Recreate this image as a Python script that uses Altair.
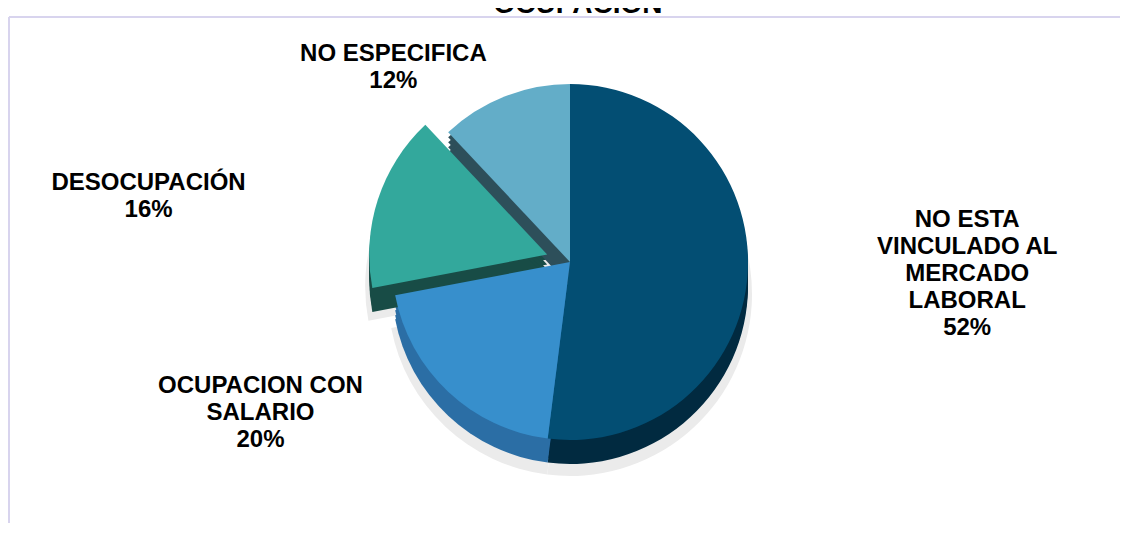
import altair as alt
import pandas as pd

# ---- data ----
categories = ["NO ESTA VINCULADO AL MERCADO LABORAL", "OCUPACION CON SALARIO",
              "DESOCUPACIÓN", "NO ESPECIFICA"]
label_lines = ["NO ESTA|VINCULADO AL|MERCADO|LABORAL", "OCUPACION CON|SALARIO",
               "DESOCUPACIÓN", "NO ESPECIFICA"]
percent = [52, 20, 16, 12]
slice_order = [0, 1, 2, 3]

title_text = "OCUPACIÓN"

df = pd.DataFrame({"cat": categories, "label": label_lines,
                   "pct": percent, "order": slice_order})

top_colors = ["#034e73", "#378fcc", "#33a89c", "#63adc8"]
side_colors = ["#012a40", "#2b6ea5", "#184c46", "#2d4f5a"]

CX, CY = 562, 254      # pie centre (pixels in view)
R = 178                # pie radius
EXPLODE = 24           # DESOCUPACIÓN pulled out
DEPTH_STEPS = [5, 10, 15, 20, 24]
LCX, LCY, LA, LB = 540, 253, 420, 208   # label ring (ellipse)
LINE_H = 27

base = (
    alt.Chart(df)
    .transform_window(end="sum(pct)", sort=[{"field": "order"}], frame=[None, 0])
    .transform_calculate(
        start="datum.end - datum.pct",
        mid="(datum.end - datum.pct / 2) / 100 * 2 * PI",
        ex=f"datum.cat == 'DESOCUPACIÓN' ? {EXPLODE} : 0",
        txt="datum.label + '|' + datum.pct + '%'",
    )
    .transform_calculate(
        ax=f"{CX} + datum.ex * sin(datum.mid)",
        ay=f"{CY} - datum.ex * cos(datum.mid)",
        lx=f"{LCX} + {LA} * sin(datum.mid)",
        ly=f"{LCY} - {LB} * cos(datum.mid) - (split(datum.txt, '|').length - 1) * {LINE_H} / 2",
    )
)

theta_enc = alt.Theta("start:Q", scale=alt.Scale(domain=[0, 100], range=[0, 6.283185307]))
theta2_enc = alt.Theta2("end:Q")

layers = []

# soft shadow
layers.append(
    base.transform_calculate(sy="datum.ay + 32").mark_arc(radius=R + 4, color="#ebebeb").encode(
        theta=theta_enc, theta2=theta2_enc,
        x=alt.X("ax:Q", scale=None, axis=None), y=alt.Y("sy:Q", scale=None, axis=None),
    )
)

# side (depth) of the pie
for d in DEPTH_STEPS:
    layers.append(
        base.transform_calculate(sy=f"datum.ay + {d}").mark_arc(radius=R).encode(
            theta=theta_enc, theta2=theta2_enc,
            x=alt.X("ax:Q", scale=None, axis=None), y=alt.Y("sy:Q", scale=None, axis=None),
            color=alt.Color("cat:N", scale=alt.Scale(domain=categories, range=side_colors), legend=None),
        )
    )

# top face
layers.append(
    base.mark_arc(radius=R).encode(
        theta=theta_enc, theta2=theta2_enc,
        x=alt.X("ax:Q", scale=None, axis=None), y=alt.Y("ay:Q", scale=None, axis=None),
        color=alt.Color("cat:N", scale=alt.Scale(domain=categories, range=top_colors), legend=None),
    )
)

# labels
layers.append(
    base.mark_text(font="Liberation Sans", fontWeight="bold", fontSize=24, lineHeight=LINE_H,
                   lineBreak="|", align="center", baseline="middle", color="#000000").encode(
        x=alt.X("lx:Q", scale=None, axis=None), y=alt.Y("ly:Q", scale=None, axis=None),
        text="txt:N",
    )
)

one = pd.DataFrame({"k": [0]})
# chart-area border (left and top edges visible)
layers.append(alt.Chart(one).mark_rule(color="#d8d4ee", strokeWidth=2).encode(
    x=alt.value(1), y=alt.value(9), y2=alt.value(700)))
layers.append(alt.Chart(one).mark_rule(color="#d8d4ee", strokeWidth=2).encode(
    x=alt.value(1), x2=alt.value(1300), y=alt.value(9)))

# title, cut at the top edge as in the reference
layers.append(alt.Chart(one).mark_text(font="Liberation Sans", fontWeight="bold", fontSize=28,
                                       align="center", baseline="alphabetic", color="#000000").encode(
    x=alt.value(570), y=alt.value(5), text=alt.value(title_text)))

chart = (
    alt.layer(*layers)
    .resolve_scale(color="independent")
    .properties(width=1112, height=515, padding=0, autosize=alt.AutoSizeParams(type="none"))
    .configure_view(stroke=None)
)

chart.save("out.html", embed_options={"renderer": "svg", "actions": False})
